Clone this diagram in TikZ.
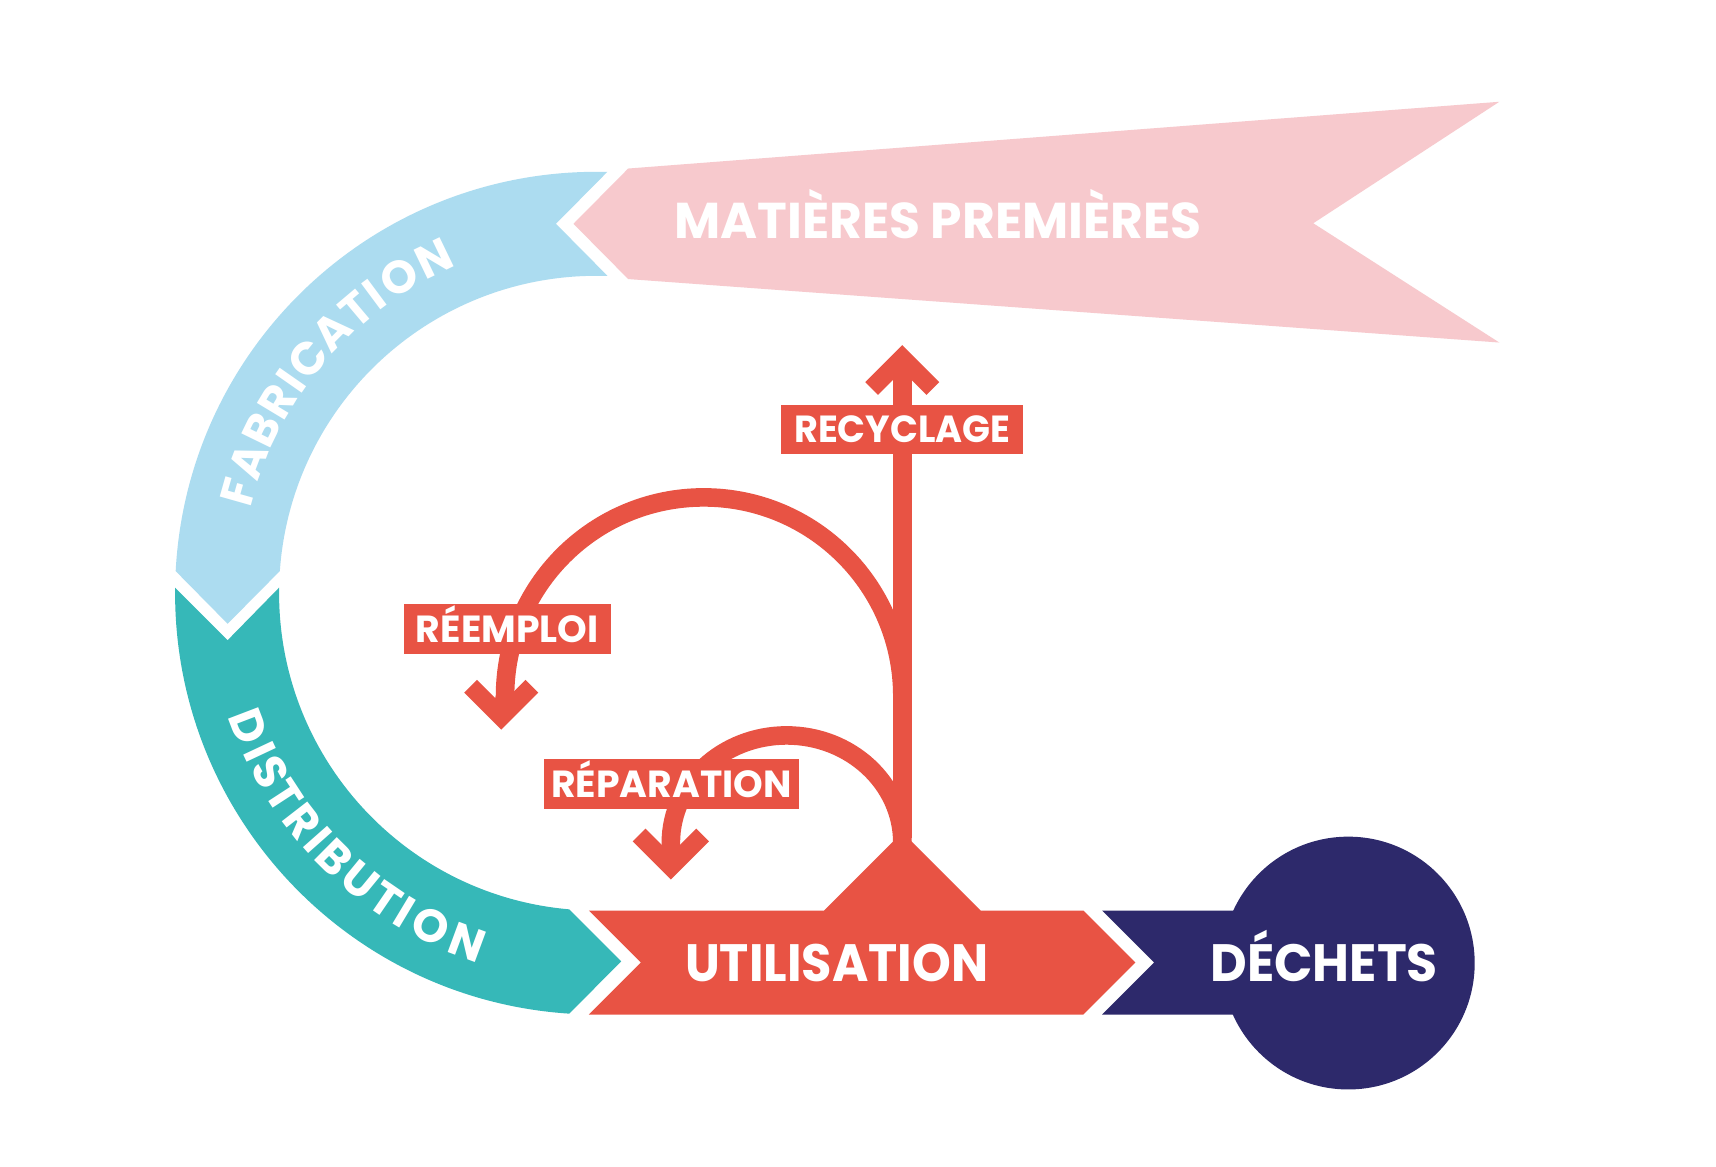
\documentclass[tikz,border=0pt]{standalone}
\usepackage{fontspec}
\setmainfont{Poppins}
\definecolor{pinkc}{RGB}{247,201,205}
\definecolor{bluec}{RGB}{172,220,240}
\definecolor{tealc}{RGB}{54,184,184}
\definecolor{redc}{RGB}{232,83,68}
\definecolor{navyc}{RGB}{45,41,107}
\begin{document}
\begin{tikzpicture}[x=1pt,y=1pt,
  bigtxt/.style={text=white,font=\fontsize{48}{48}\selectfont\bfseries,inner sep=0pt,text height=33.5pt,text depth=0pt},
  lbl/.style={fill=redc,text=white,font=\fontsize{34.5}{34.5}\selectfont\bfseries,inner xsep=0pt,inner ysep=10.5pt,text height=24.5pt,text depth=0pt},
  arctxt/.style={text=white,font=\fontsize{42}{42}\selectfont\bfseries,inner sep=0pt,text height=29.5pt,text depth=0pt,anchor=center},
  redline/.style={draw=redc,line width=17pt},
  arrowhd/.style={draw=redc,line width=16.5pt,line join=miter}
]
\useasboundingbox[fill=white] (0,-5) rectangle (1568,1061);

% raw materials banner
\fill[pinkc] (574,907) -- (1370,968) -- (1200,857) -- (1370,748) -- (574,806) -- (524,856.5) -- cycle;
\node[bigtxt,font=\fontsize{46}{46}\selectfont\bfseries,text height=32pt] (mp) at (857,859) {MATIÈRES PREMIÈRES};

% fabrication (blue band)
\fill[bluec] (555,904) -- (545,904) arc[start angle=90,end angle=177,radius=385]
  -- (208,491) -- (255.7,539.2) arc[start angle=176,end angle=90,radius=290]
  -- (555,809) -- (508,856.5) -- cycle;
\foreach \a/\l [count=\i] in {164.2/F,159.2/A,154.0/B,148.95/R,145.1/I,140.9/C,135.2/A,130.2/T,126.6/I,122.0/O,115.8/N}
  \node[arctxt,rotate=\a-90] (fab\i) at ([shift={(545,519)}]\a:340) {\l};

% distribution (teal band)
\fill[tealc] (255.04,524.06) -- (208,476) -- (160.03,524)
  arc[start angle=179.25,end angle=266.3,radius=385]
  -- (567.6,182.5) -- (520,230.1)
  arc[start angle=265.05,end angle=179,radius=290] -- cycle;
\foreach \a/\l [count=\i] in {200.9/D,205.15/I,208.7/S,213.1/T,217.8/R,221.5/I,225.3/B,230.6/U,235.6/T,239.0/I,243.6/O,249.7/N}
  \node[arctxt,rotate=\a+90] (dis\i) at ([shift={(545,519)}]\a:340) {\l};

% red loops (behind labels)
\coordinate (stemtop) at (824.5,734);
\coordinate (apex) at (824.5,295);
\draw[redline] (824.5,425) arc[start angle=0,end angle=180,radius=181.5] -- (458,406) coordinate (reemtip);
\draw[redline] (824.5,291) arc[start angle=0,end angle=180,x radius=105.75,y radius=98] -- (613,269) coordinate (reptip);
\draw[redline] (apex) -- (stemtop);

% arrowheads
\draw[arrowhd] ([shift={(-28,-28)}]stemtop) -- (stemtop) -- ([shift={(28,-28)}]stemtop);
\draw[arrowhd] ([shift={(-28,28)}]reemtip) -- (reemtip) -- ([shift={(28,28)}]reemtip);
\draw[arrowhd] ([shift={(-29,29)}]reptip) -- (reptip) -- ([shift={(29,29)}]reptip);

% labels
\node[lbl,minimum width=221pt] (rec) at (824.5,668.5) {\scalebox{0.97}[1]{RECYCLAGE}};
\node[lbl,minimum width=189pt] (ree) at (463.5,486.5) {RÉEMPLOI};
\node[lbl,minimum width=233pt] (rep) at (613.5,344.5) {RÉPARATION};

% utilisation
\fill[redc] (538,229) -- (753,229) -- (824.5,300.5) -- (896,229) -- (990,229)
  -- (1037.5,181.5) -- (990,134) -- (538,134) -- (585.5,181.5) -- cycle;
\node[bigtxt] (uti) at (764.5,180.5) {\scalebox{0.94}[1]{UTILISATION}};

% dechets
\fill[navyc] (1007,229) -- (1130,229) -- (1130,134) -- (1007,134) -- (1054.5,181.5) -- cycle;
\fill[navyc] (1232,181) circle[radius=115.5];
\node[bigtxt] (dec) at (1210,180.5) {\scalebox{0.96}[1]{DÉCHETS}};
\end{tikzpicture}
\end{document}
